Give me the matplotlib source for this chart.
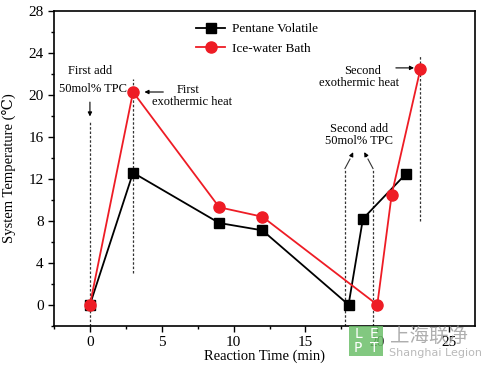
import matplotlib
matplotlib.use("Agg")
import matplotlib.pyplot as plt
from matplotlib.ticker import MultipleLocator
from matplotlib.patches import Rectangle

plt.rcParams['font.family'] = ['Liberation Serif', 'DejaVu Serif']
plt.rcParams['mathtext.fontset'] = 'stix'

# Data
pentane_time = [0, 3, 9, 12, 18, 19, 22]
pentane_temp = [0, 12.6, 7.8, 7.1, 0, 8.2, 12.5]
ice_time = [0, 3, 9, 12, 20, 21, 23]
ice_temp = [0, 20.3, 9.3, 8.4, 0, 10.5, 22.5]
series_names = ["Pentane Volatile", "Ice-water Bath"]
xticks = [0, 5, 10, 15, 20, 25]
yticks = [0, 4, 8, 12, 16, 20, 24, 28]

fig = plt.figure(figsize=(4.84, 3.67), dpi=100)
ax = fig.add_axes([0.1116, 0.1125, 0.8698, 0.8567])

ax.plot(pentane_time, pentane_temp, color='black', lw=1.3, marker='s',
        ms=6.5, mfc='black', mec='black', label=series_names[0], zorder=3)
ax.plot(ice_time, ice_temp, color='#ee1c25', lw=1.3, marker='o',
        ms=8, mfc='#ee1c25', mec='#ee1c25', label=series_names[1], zorder=4)

ax.set_xlim(-2.5, 26.8)
ax.set_ylim(-2, 28)
ax.set_xticks(xticks)
ax.set_yticks(yticks)
ax.xaxis.set_minor_locator(MultipleLocator(2.5))
ax.yaxis.set_minor_locator(MultipleLocator(2))
ax.tick_params(which='major', direction='out', length=4, width=1, labelsize=11)
ax.tick_params(which='minor', direction='out', length=2.5, width=1)
for s in ax.spines.values():
    s.set_linewidth(1.2)

ax.set_xlabel("Reaction Time (min)", fontsize=10.5)
ax.set_ylabel("System Temperature (\u2103)", fontsize=10.5)
ax.xaxis.set_label_coords(0.5, -0.075)
ax.yaxis.set_label_coords(-0.09, 0.5)

# Dashed guide lines
dk = dict(color='#333333', lw=0.9, ls=(0, (2, 1.5)), zorder=1)
ax.plot([0, 0], [-2, 17.4], **dk)
ax.plot([3, 3], [3, 21.5], **dk)
ax.plot([17.75, 17.75], [-2, 13.0], **dk)
ax.plot([19.7, 19.7], [-2, 13.0], **dk)
ax.plot([23.0, 23.0], [8.0, 23.7], **dk)

fs = 9
ax.text(0.0, 22.3, "First add", ha='center', va='center', fontsize=fs)
ax.text(0.2, 20.6, "50mol% TPC", ha='center', va='center', fontsize=fs)
ax.annotate("", xy=(0, 17.7), xytext=(0, 19.6),
            arrowprops=dict(arrowstyle='-|>', color='black', lw=0.8, mutation_scale=6))

ax.text(6.8, 20.45, "First", ha='center', va='center', fontsize=fs)
ax.text(7.1, 19.35, "exothermic heat", ha='center', va='center', fontsize=fs)
ax.annotate("", xy=(3.6, 20.3), xytext=(5.3, 20.3),
            arrowprops=dict(arrowstyle='-|>', color='black', lw=0.8, mutation_scale=6))

ax.text(19.0, 22.3, "Second", ha='center', va='center', fontsize=fs)
ax.text(18.7, 21.15, "exothermic heat", ha='center', va='center', fontsize=fs)
ax.annotate("", xy=(22.75, 22.6), xytext=(21.1, 22.6),
            arrowprops=dict(arrowstyle='-|>', color='black', lw=0.8, mutation_scale=6))

ax.text(18.7, 16.8, "Second add", ha='center', va='center', fontsize=fs)
ax.text(18.7, 15.65, "50mol% TPC", ha='center', va='center', fontsize=fs)
ax.plot([17.75, 18.1], [13.0, 13.9], color='#333333', lw=0.8)
ax.annotate("", xy=(18.4, 14.8), xytext=(18.1, 13.9),
            arrowprops=dict(arrowstyle='-|>', color='black', lw=0.8, mutation_scale=6))
ax.plot([19.7, 19.35], [13.0, 13.9], color='#333333', lw=0.8)
ax.annotate("", xy=(19.0, 14.8), xytext=(19.35, 13.9),
            arrowprops=dict(arrowstyle='-|>', color='black', lw=0.8, mutation_scale=6))

leg = ax.legend(loc='upper left', bbox_to_anchor=(0.31, 1.0), frameon=False,
                fontsize=9.5, handlelength=2.2, handletextpad=0.5, labelspacing=0.55)

# Watermark
gx, gy, gw, gh = 349/484, 1-356/367, 34/484, 30/367
fig.patches.append(Rectangle((gx, gy), gw, gh, transform=fig.transFigure,
                             facecolor='#6cbf6a', edgecolor='none', alpha=0.85, zorder=10))
for i, ch in enumerate(["L", "E", "P", "T"]):
    cx = gx + gw*(0.27 + 0.46*(i % 2))
    cy = gy + gh*(0.73 - 0.46*(i // 2))
    fig.text(cx, cy, ch, ha='center', va='center', color='white', fontsize=10,
             family='DejaVu Sans', zorder=11)
fig.text(390/484, 1-336/367, "上海联净", ha='left', va='center', color='#9a9a9a',
         fontsize=14, family=['Noto Sans CJK SC', 'DejaVu Sans'], alpha=0.8, zorder=11)
fig.text(389/484, 1-353/367, "Shanghai Legion", ha='left', va='center', color='#a8a8a8',
         fontsize=8, family='DejaVu Sans', alpha=0.8, zorder=11)

fig.savefig("out.png", dpi=100)
